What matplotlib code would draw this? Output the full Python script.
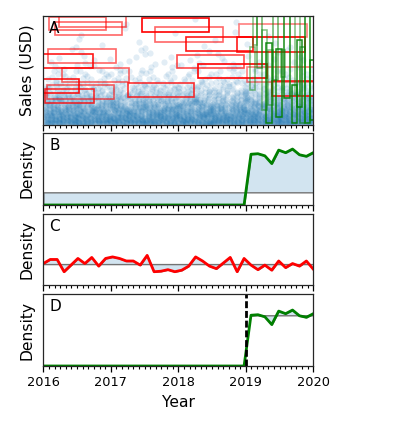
import numpy as np
import matplotlib
matplotlib.use("Agg")
import matplotlib.pyplot as plt
from matplotlib.patches import Rectangle
from matplotlib.ticker import MultipleLocator

# ---------------- data ----------------
years = np.linspace(2016, 2020, 40)

# Panel B / D : density series (zero before 2019)
density_post = [0.0] * 30 + [0.98, 0.99, 0.95, 0.80, 1.06, 1.01, 1.08, 0.97, 0.94, 1.01]

# Panel C : density series
density_c = [0.42, 0.50, 0.50, 0.26, 0.39, 0.52, 0.42, 0.54, 0.37, 0.52,
             0.55, 0.52, 0.47, 0.47, 0.39, 0.58, 0.26, 0.27, 0.30, 0.26,
             0.29, 0.37, 0.55, 0.47, 0.37, 0.32, 0.43, 0.54, 0.26, 0.52,
             0.39, 0.30, 0.39, 0.29, 0.47, 0.34, 0.42, 0.37, 0.47, 0.31]

# Panel A : scatter cloud, number of points per 5-unit sales band (2016-2020)
sales_band_low = [0, 5, 10, 15, 20, 25, 30, 35, 40, 45,
                  50, 55, 60, 65, 70, 75, 80, 85, 90, 95]
sales_band_count = [540, 470, 380, 300, 220, 160, 110, 75, 50, 34,
                    24, 16, 11, 8, 6, 4, 3, 2, 2, 1]

# Panel A : red boxes (start year, width in years, low sales, height, alpha)
red_x0 = [2016.09, 2016.17, 2016.23, 2017.46, 2017.66, 2018.11, 2018.90, 2018.87,
          2017.98, 2018.29, 2019.02, 2017.25, 2019.39, 2016.07, 2015.74, 2016.28,
          2015.53, 2016.05, 2016.03]
red_w = [0.84, 0.99, 1.0, 0.99, 1.0, 0.99, 1.0, 1.0,
         1.0, 1.02, 1.0, 0.99, 1.0, 1.0, 1.0, 0.99,
         1.0, 1.0, 0.72]
red_y0 = [87.2, 82.6, 89.9, 85.3, 76.1, 67.9, 80.7, 67.0,
          52.3, 43.1, 39.4, 25.7, 26.6, 56.9, 52.3, 39.4,
          29.4, 23.9, 20.2]
red_h = [11.9, 11.9, 12.5, 12.8, 13.8, 12.8, 11.9, 13.8,
         11.9, 12.8, 13.8, 12.8, 13.8, 12.8, 12.8, 12.8,
         12.8, 12.8, 12.8]
red_alpha = [0.6, 0.6, 0.6, 1.0, 0.6, 0.9, 0.5, 0.9,
             0.7, 1.0, 0.5, 0.8, 0.9, 0.6, 0.9, 0.6,
             0.9, 0.6, 0.8]

# Panel A : green boxes
green_x0 = [2019.06, 2019.11, 2019.17, 2019.235, 2019.30, 2019.33, 2019.41, 2019.45,
            2019.52, 2019.56, 2019.68, 2019.73, 2019.76, 2019.80, 2019.88, 2019.95]
green_w = [0.074, 0.06, 0.074, 0.074, 0.084, 0.074, 0.06, 0.084,
           0.064, 0.089, 0.074, 0.074, 0.079, 0.074, 0.074, 0.06]
green_y0 = [32.1, 73.4, 52.3, 13.8, 1.6, 18.3, 41.3, 7.6,
            44.3, 24.5, 1.6, 27.5, 16.8, 1.6, 1.6, 4.6]
green_h = [39.8, 30.0, 50.0, 73.4, 73.4, 50.5, 60.0, 61.8,
           24.5, 76.0, 35.1, 80.0, 61.2, 70.3, 98.5, 55.0]
green_alpha = [0.5, 0.5, 0.6, 0.5, 0.9, 0.5, 0.6, 0.9,
               0.5, 0.9, 0.9, 0.5, 0.9, 0.6, 0.9, 0.9]

year_ticks = [2016, 2017, 2018, 2019, 2020]
panel_letters = ["A", "B", "C", "D"]

# ---------------- figure ----------------
W, H = 394, 428
fig = plt.figure(figsize=(W / 100, H / 100), dpi=100)

def rect(top, bottom):
    l, r = 43.3, 313.3
    return [l / W, 1 - bottom / H, (r - l) / W, (bottom - top) / H]

axA = fig.add_axes(rect(16, 125))
axB = fig.add_axes(rect(133, 205))
axC = fig.add_axes(rect(214, 285))
axD = fig.add_axes(rect(294, 366))
axes = [axA, axB, axC, axD]

# --- Panel A ---
# each band's points are spread evenly over 16 quarter-year cells
# (low-discrepancy placement inside each cell)
ncell = 16
px, py = [], []
start = 0
for lo, total in zip(sales_band_low, sales_band_count):
    for c in range(ncell):
        n = int(round(total * (c + 1) / ncell)) - int(round(total * c / ncell))
        if n <= 0:
            continue
        i = np.arange(n) + start
        start += n + 5
        u = (0.37 + i * 0.7548776662) % 1.0
        v = (0.61 + i * 0.5698402910) % 1.0
        px.append(2016 + (4.0 / ncell) * (c + u))
        py.append(lo + 5 * v)
px = np.concatenate(px)
py = np.concatenate(py)
axA.scatter(px, py, s=20, color="C0", alpha=0.13, linewidths=0)

for x0, w, y0, h, a in zip(red_x0, red_w, red_y0, red_h, red_alpha):
    axA.add_patch(Rectangle((x0, y0), w, h, fill=False, edgecolor="red",
                            alpha=a, lw=1.2))
for x0, w, y0, h, a in zip(green_x0, green_w, green_y0, green_h, green_alpha):
    axA.add_patch(Rectangle((x0, y0), w, h, fill=False, edgecolor="green",
                            alpha=a, lw=1.1))
axA.set_ylim(0, 100)
axA.set_ylabel("Sales (USD)", fontsize=11.2, labelpad=6)

yb = np.array(density_post)
yc = np.array(density_c)

# --- Panel B ---
mB = yb.mean()
axB.fill_between(years, yb, mB, facecolor=(0.12, 0.47, 0.71, 0.2),
                 edgecolor="0.45", lw=1.0)
axB.plot(years, yb, color="green", lw=2)

# --- Panel C ---
mC = yc.mean()
axC.fill_between(years, yc, mC, facecolor=(0.12, 0.47, 0.71, 0.2),
                 edgecolor="0.45", lw=1.0)
axC.plot(years, yc, color="red", lw=2)

# --- Panel D ---
mD = yb[30:].mean()
axD.fill_between(years[30:], yb[30:], mD, facecolor=(0.12, 0.47, 0.71, 0.2),
                 edgecolor="0.45", lw=1.0)
axD.plot(years, yb, color="green", lw=2)
axD.axvline(2019, color="black", lw=2, linestyle=(0, (2.5, 1.0)))

for ax in (axB, axC, axD):
    ax.set_ylim(0, 1.39)
    ax.set_ylabel("Density", fontsize=11.2, labelpad=6)

for ax, letter in zip(axes, panel_letters):
    ax.set_xlim(2016, 2020)
    ax.set_yticks([])
    ax.set_xticks(year_ticks)
    ax.xaxis.set_minor_locator(MultipleLocator(1 / 12))
    ax.tick_params(axis="x", which="major", length=4, width=0.9, labelsize=9.3)
    ax.tick_params(axis="x", which="minor", length=2.4, width=0.8)
    if ax is not axD:
        ax.tick_params(axis="x", labelbottom=False)
    ax.annotate(letter, xy=(0, 1), xycoords="axes fraction",
                xytext=(4.2, -3.5), textcoords="offset points",
                ha="left", va="top", fontsize=11)
    for s in ax.spines.values():
        s.set_linewidth(0.9)
        s.set_color("0.15")

axD.set_xlabel("Year", fontsize=11.2)

fig.savefig("out.png", dpi=100)
